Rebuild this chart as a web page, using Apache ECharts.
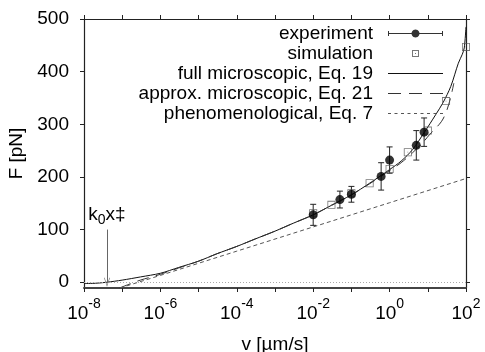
<!DOCTYPE html>
<html><head><meta charset="utf-8">
<script src="https://cdn.jsdelivr.net/npm/echarts@6/dist/echarts.min.js"></script>
<style>html,body{margin:0;padding:0;background:#fff}#c{width:485px;height:352px}</style>
</head><body><div id="c"></div>
<script>
// ---- data ----
const yTicks = [0, 100, 200, 300, 400, 500];

const expV   = [0.01, 0.05, 0.1, 0.6, 1, 5, 8];
const expF   = [128, 157, 167, 201, 232, 260, 285];
const expErr = [20, 16, 15, 26, 25, 28, 27];

const simV = [0.01, 0.03, 0.1, 0.3, 1, 3, 10, 30, 100];
const simF = [131, 147, 169, 188, 215, 247, 288, 344, 447];

const fullV = [1e-8, 2e-8, 4e-8, 1e-7, 3e-7, 1e-6, 3e-6, 1e-5, 3e-5, 1e-4, 3e-4, 1e-3, 3e-3, 0.01, 0.03, 0.1, 0.3, 1, 2, 4, 8, 16, 25, 40, 63, 80, 90, 100];
const fullF = [-2.5, -2, 0, 4, 10, 17, 28, 40, 54, 68, 82, 97, 112, 128, 146, 166, 188, 214, 230, 252, 284, 318, 341, 372, 416, 433, 445, 485];

const approxV = [8.5e-8, 1.5e-7, 3e-7, 1e-6, 3e-6, 1e-5, 3e-5, 1e-4, 3e-4, 1e-3, 3e-3, 0.01, 0.03, 0.1, 0.3, 1, 2, 4, 8, 11, 20, 25, 32, 40, 48];
const approxF = [-11, -4, 4, 15, 27, 40, 54, 68, 82, 97, 112, 128, 146, 166, 187, 212, 227, 246, 268, 280, 300, 310, 328, 352, 378];

const phenV = [8.7e-8, 1e-6, 1e-4, 0.01, 1, 100];
const phenF = [-11, 13, 59, 105, 151, 197];

const markerV = 4e-8;
const markerF = [100, 0];

const names = ['experiment', 'simulation', 'full microscopic, Eq. 19', 'approx. microscopic, Eq. 21', 'phenomenological, Eq. 7'];

// ---- build ----
const FONT = 'Liberation Sans';
const pair = (xs, ys) => xs.map((v, i) => [v, ys[i]]);
const specks = 'M0,0h0.02v0.02h-0.02Z M54.98,7.98h0.02v0.02h-0.02Z ';
let circ = '';
for (let i = 0; i < 24; i++) {
  const a = i / 24 * Math.PI * 2;
  circ += (i ? 'L' : 'M') + (27.5 + 4 * Math.cos(a)).toFixed(3) + ',' + (4 + 4 * Math.sin(a)).toFixed(3);
}
circ += 'Z';
const ICON_EXP = 'path://M0,1.5H1V6.5H0Z M54,1.5H55V6.5H54Z M1,3.5H54V4.5H1Z ' + circ;
const ICON_SIM = 'path://' + specks + 'M24,0.5H31V7.5H24Z M25,1.5V6.5H30V1.5Z M27,3.5H28V4.5H27Z';
const ICON_SOLID = 'path://' + specks + 'M0,3.5H55V4.5H0Z';
const ICON_LONG = 'path://' + specks + 'M0,3.5H13V4.5H0Z M21,3.5H34V4.5H21Z M42,3.5H55V4.5H42Z';
let sd = '';
for (let i = 0; i < 9; i++) { const x0 = i * 6.5; sd += 'M' + x0 + ',3.5H' + (x0 + 3) + 'V4.5H' + x0 + 'Z '; }
const ICON_SHORT = 'path://' + specks + sd;
const SQ = 'path://M0,0H10V10H0Z M1,1V9H9V1Z M4.5,4.5H5.5V5.5H4.5Z';

const chart = echarts.init(document.getElementById('c'), null, {renderer: 'canvas'});
const axisCol = '#222';
const logAxisBase = {
  type: 'log', logBase: 10, min: 1e-8, max: 100, interval: 1,
  splitLine: {show: false}, minorTick: {show: false},
  axisLine: {onZero: false, lineStyle: {color: axisCol, width: 1.2}},
  axisTick: {inside: false, length: 4, lineStyle: {color: axisCol}}
};
const valAxisBase = {
  type: 'value', min: -11, max: 500, splitLine: {show: false},
  axisLine: {show: true, onZero: false, lineStyle: {color: axisCol, width: 1.2}},
  axisTick: {show: true, inside: false, length: 4, customValues: yTicks, lineStyle: {color: axisCol}}
};

chart.setOption({
  animation: false,
  backgroundColor: '#fff',
  grid: {left: 84, right: 19, top: 19, bottom: 64, containLabel: false, outerBoundsMode: 'none'},
  legend: {
    data: [
      {name: names[0], icon: ICON_EXP, itemStyle: {color: '#000', borderWidth: 0}},
      {name: names[1], icon: ICON_SIM, itemStyle: {color: '#555', borderWidth: 0}},
      {name: names[2], icon: ICON_SOLID, itemStyle: {color: '#111', borderWidth: 0}},
      {name: names[3], icon: ICON_LONG, itemStyle: {color: '#333', borderWidth: 0}},
      {name: names[4], icon: ICON_SHORT, itemStyle: {color: '#555', borderWidth: 0}}
    ],
    orient: 'vertical', align: 'right', right: 42, top: 24, padding: 0,
    itemGap: 1, itemWidth: 55, itemHeight: 8, selectedMode: false,
    textStyle: {fontFamily: FONT, fontSize: 19, color: '#000', padding: [0, 10, 0, 0]}
  },
  xAxis: [
    Object.assign({}, logAxisBase, {
      position: 'bottom',
      axisLine: {onZero: false, lineStyle: {color: '#444', width: 2}},
      name: 'v [µm/s]', nameLocation: 'middle', nameGap: 43,
      nameTextStyle: {fontFamily: FONT, fontSize: 19, color: '#000'},
      axisLabel: {
        margin: 16,
        formatter: function (v) {
          const e = Math.round(Math.log10(v));
          return e % 2 === 0 ? '{b|10}{s|' + e + '}' : '';
        },
        rich: {
          b: {fontFamily: FONT, fontSize: 19, color: '#000', lineHeight: 20},
          s: {fontFamily: FONT, fontSize: 14, color: '#000', lineHeight: 14, padding: [0, 0, 19, 0]}
        }
      }
    }),
    Object.assign({}, logAxisBase, {position: 'top', axisLabel: {show: false}})
  ],
  yAxis: [
    Object.assign({}, valAxisBase, {
      position: 'left',
      name: 'F [pN]', nameLocation: 'middle', nameGap: 55, nameRotate: 90,
      nameTextStyle: {fontFamily: FONT, fontSize: 19, color: '#000'},
      axisLabel: {customValues: yTicks, margin: 15, fontFamily: FONT, fontSize: 19, color: '#000'}
    }),
    Object.assign({}, valAxisBase, {position: 'right', axisLabel: {show: false}})
  ],
  series: [
    {
      name: names[2], type: 'line', data: pair(fullV, fullF), symbol: 'none', showSymbol: false,
      smooth: 0.3, color: '#111', lineStyle: {color: '#111', width: 1}, z: 3,
      markLine: {
        silent: true, symbol: 'none', label: {show: false},
        lineStyle: {color: '#aaa', type: [1, 2], width: 1},
        data: [{yAxis: 0}]
      }
    },
    {
      name: names[3], type: 'line', data: pair(approxV, approxF), symbol: 'none', showSymbol: false,
      smooth: 0.3, color: '#333', lineStyle: {color: '#333', width: 1, type: [12, 7]}, z: 3
    },
    {
      name: names[4], type: 'line', data: pair(phenV, phenF), symbol: 'none', showSymbol: false,
      color: '#555', lineStyle: {color: '#555', width: 1, type: [4, 3]}, z: 3,
      markLine: {
        silent: true,
        lineStyle: {color: '#666', type: 'solid', width: 1},
        label: {
          show: true, position: 'start', distance: 2,
          formatter: '{k|k}{s|0}{k|x‡}',
          rich: {
            k: {fontFamily: FONT, fontSize: 19, color: '#000'},
            s: {fontFamily: FONT, fontSize: 14, color: '#000', padding: [12, 0, 0, 0]}
          }
        },
        data: [[
          {coord: [markerV, markerF[0]], symbol: 'none'},
          {coord: [markerV, markerF[1]], symbol: 'path://M5,0L10,10L9,10L5,2L1,10L0,10Z', symbolSize: [6, 9]}
        ]]
      }
    },
    {
      name: 'experiment-err', type: 'custom', z: 4,
      data: expV.map((v, i) => [v, expF[i], expErr[i]]),
      encode: {x: 0, y: 1},
      renderItem: function (params, api) {
        const x = api.value(0), y = api.value(1), e = api.value(2);
        const t = api.coord([x, y + e]), b = api.coord([x, y - e]);
        const st = {stroke: '#222', lineWidth: 1};
        return {type: 'group', children: [
          {type: 'line', shape: {x1: t[0], y1: t[1], x2: b[0], y2: b[1]}, style: st},
          {type: 'line', shape: {x1: t[0] - 3, y1: t[1], x2: t[0] + 3, y2: t[1]}, style: st},
          {type: 'line', shape: {x1: b[0] - 3, y1: b[1], x2: b[0] + 3, y2: b[1]}, style: st}
        ]};
      }
    },
    {
      name: names[1], type: 'scatter', data: pair(simV, simF), symbol: SQ, symbolSize: 8,
      itemStyle: {color: '#555'}, z: 5
    },
    {
      name: names[0], type: 'scatter', data: pair(expV, expF), symbol: 'circle', symbolSize: 9,
      itemStyle: {color: '#000'}, z: 6
    }
  ]
});
</script></body></html>
